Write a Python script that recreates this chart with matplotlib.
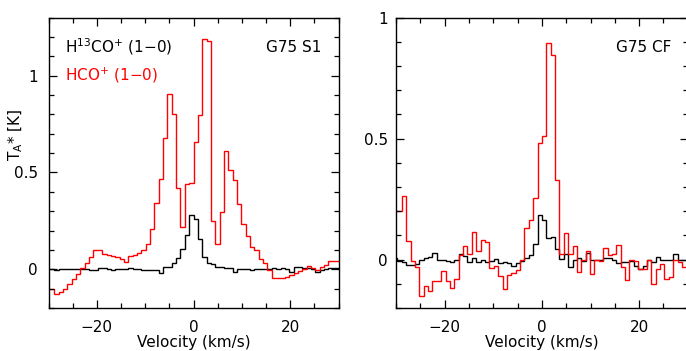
import numpy as np
import matplotlib
matplotlib.use("Agg")
import matplotlib.pyplot as plt
from matplotlib.ticker import MultipleLocator, FuncFormatter

plt.rcParams["font.family"] = ["DejaVu Sans"]
plt.rcParams["mathtext.default"] = "regular"
plt.rcParams["axes.unicode_minus"] = True

# Spectral channel grid (km/s)
chan_width = 0.9
first_edge = -30.6
n_chan = 68

# G75 S1 spectra (T_A*, K)
s1_hco = [-0.103, -0.103, -0.126, -0.116, -0.100, -0.078, -0.051, -0.026,
          0.005, 0.033, 0.061, 0.097, 0.100, 0.078, 0.072, 0.070,
          0.063, 0.053, 0.037, 0.066, 0.072, 0.086, 0.100, 0.132,
          0.208, 0.342, 0.465, 0.677, 0.905, 0.800, 0.418, 0.217,
          0.440, 0.444, 0.659, 0.797, 1.188, 1.180, 0.250, 0.129,
          0.298, 0.611, 0.513, 0.461, 0.336, 0.234, 0.174, 0.117,
          0.100, 0.053, 0.031, -0.004, -0.043, -0.045, -0.045, -0.040,
          -0.030, -0.020, -0.010, 0.000, 0.018, 0.005, -0.003, 0.010,
          0.022, 0.043, 0.043, 0.043]
s1_h13co = [0.000, 0.000, -0.003, 0.002, 0.000, 0.000, 0.000, 0.000,
            0.000, 0.003, -0.002, -0.002, 0.006, 0.005, 0.002, -0.003,
            0.000, 0.003, 0.000, 0.004, 0.000, 0.002, -0.002, -0.003,
            -0.004, -0.005, -0.018, 0.010, 0.013, 0.031, 0.057, 0.103,
            0.177, 0.280, 0.258, 0.155, 0.062, 0.031, 0.028, 0.013,
            0.012, 0.005, 0.004, -0.012, 0.000, 0.002, 0.000, -0.004,
            0.003, 0.002, 0.001, 0.003, 0.004, 0.002, 0.004, 0.003,
            -0.012, 0.012, 0.014, 0.004, 0.005, 0.003, -0.012, -0.005,
            0.000, 0.005, 0.006, 0.008]

# G75 CF spectra (T_A*, K)
cf_hco = [0.200, 0.200, 0.262, 0.075, -0.004, -0.029, -0.149, -0.108,
          -0.128, -0.090, -0.087, -0.048, -0.087, -0.117, -0.080, 0.017,
          0.058, 0.021, 0.113, 0.034, 0.082, 0.072, -0.034, -0.025,
          -0.066, -0.122, -0.065, -0.055, -0.045, 0.000, 0.131, 0.165,
          0.256, 0.482, 0.511, 0.896, 0.845, 0.330, 0.024, 0.110,
          0.024, 0.055, -0.050, 0.000, 0.035, -0.060, 0.000, -0.005,
          0.047, 0.020, 0.025, 0.062, -0.030, -0.083, 0.000, -0.005,
          -0.040, -0.040, 0.000, -0.100, -0.040, -0.020, -0.080, -0.070,
          0.000, -0.010, -0.030, -0.030]
cf_h13co = [0.007, -0.004, -0.011, -0.021, -0.021, -0.018, 0.000, 0.007,
            0.010, 0.026, 0.000, -0.002, -0.005, -0.010, -0.002, 0.024,
            0.014, -0.010, 0.005, -0.010, 0.000, -0.010, -0.004, 0.004,
            -0.015, -0.012, -0.015, -0.025, -0.015, -0.004, 0.007, 0.017,
            0.065, 0.186, 0.164, 0.090, 0.095, 0.044, 0.003, 0.024,
            -0.029, 0.000, 0.005, -0.004, 0.026, 0.000, -0.003, 0.000,
            0.007, 0.005, 0.000, -0.015, -0.010, -0.008, -0.005, -0.025,
            -0.039, -0.025, 0.000, -0.010, 0.010, 0.000, -0.003, 0.000,
            0.021, 0.000, -0.002, -0.002]

edges = first_edge + chan_width * np.arange(n_chan + 1)

W, H = 686, 351
fig = plt.figure(figsize=(W / 100, H / 100), dpi=100)


def px_axes(x0, y0, x1, y1):
    return fig.add_axes([x0 / W, 1 - y1 / H, (x1 - x0) / W, (y1 - y0) / H])


ax1 = px_axes(48.5, 17.5, 338.5, 308.0)
ax2 = px_axes(396.0, 17.5, 687.8, 308.0)

fmt = FuncFormatter(lambda v, p: "%g" % v)

for ax, hco, h13, ylim, name, ypad in [
    (ax1, s1_hco, s1_h13co, (-0.2, 1.3), "G75 S1", 7.5),
    (ax2, cf_hco, cf_h13co, (-0.2, 1.0), "G75 CF", 6.0),
]:
    ax.stairs(h13, edges, baseline=None, color="black", lw=1.0)
    ax.stairs(hco, edges, baseline=None, color="#ff0000", lw=1.0)
    ax.set_xlim(-30, 30)
    ax.set_ylim(*ylim)
    ax.xaxis.set_major_locator(MultipleLocator(20))
    ax.xaxis.set_minor_locator(MultipleLocator(5))
    ax.yaxis.set_major_locator(MultipleLocator(0.5))
    ax.yaxis.set_minor_locator(MultipleLocator(0.1))
    ax.yaxis.set_major_formatter(fmt)
    ax.tick_params(which="both", direction="in", top=True, right=True,
                   width=0.9, labelsize=11, color="black")
    ax.tick_params(which="major", length=6)
    ax.tick_params(which="minor", length=3.8)
    ax.tick_params(axis="x", pad=9)
    ax.tick_params(axis="y", pad=ypad)
    for s in ax.spines.values():
        s.set_linewidth(1.0)
        s.set_color("black")
    ax.set_xlabel("Velocity (km/s)", fontsize=11, labelpad=0)
    ax.text(0.942, 0.882, name, transform=ax.transAxes, ha="right",
            va="baseline", fontsize=11)

ax1.text(0.0575, 0.880, "H$^{13}$CO$^{+}$ (1\u22120)", transform=ax1.transAxes,
         ha="left", va="baseline", fontsize=11, color="black")
ax1.text(0.0575, 0.784, "HCO$^{+}$ (1\u22120)", transform=ax1.transAxes,
         ha="left", va="baseline", fontsize=11, color="#ff0000")

fig.text(16 / W, 1 - 135 / H, "T$_{A}$* [K]", rotation=90, ha="center",
         va="center", fontsize=11)

fig.savefig("out.png", dpi=100)
